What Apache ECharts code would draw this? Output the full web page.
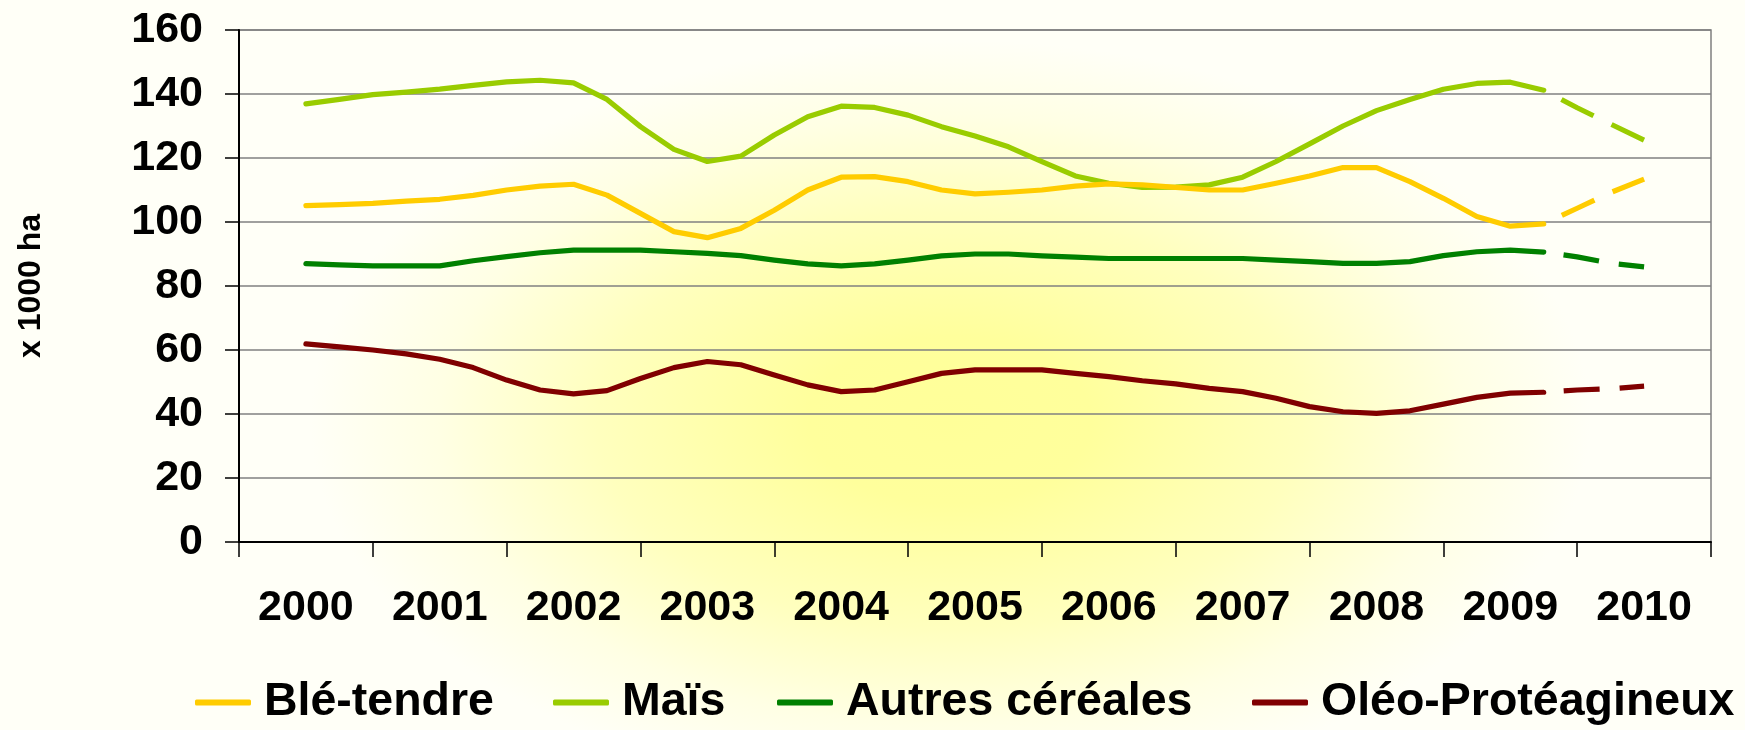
<!DOCTYPE html>
<html>
<head>
<meta charset="utf-8">
<script src="https://cdn.jsdelivr.net/npm/echarts@6/dist/echarts.min.js"></script>
<style>
  html, body { margin: 0; padding: 0; }
  #chart {
    width: 1745px; height: 730px;
    background: radial-gradient(640px 380px at 950px 420px, #ffff99 0%, #ffff9c 22%, #ffffbe 55%, #ffffe4 80%, #fffff7 100%);
  }
</style>
</head>
<body>
<div id="chart"></div>
<script>
// ---- Data (quarterly readings, 2000 → 2010) ----
const years = ['2000','2001','2002','2003','2004','2005','2006','2007','2008','2009','2010'];
const yTicks = [0, 20, 40, 60, 80, 100, 120, 140, 160];
const seriesNames = ['Blé-tendre', 'Maïs', 'Autres céréales', 'Oléo-Protéagineux'];
const firstYear = 2000;
const pointsPerYear = 4;
const forecastStart = 37; // index where the dashed (forecast) part begins

const bleTendre = [105.1,105.4,105.8,106.5,107.1,108.3,110.0,111.2,111.8,108.4,
                   102.7,97.0,95.1,98.0,103.7,110.0,114.0,114.2,112.6,110.0,
                   108.8,109.3,110.0,111.2,111.9,111.6,110.8,110.0,110.0,112.1,
                   114.4,117.0,117.0,112.6,107.4,101.7,98.7,99.4,104.3,109.2,113.4];
const mais      = [136.9,138.3,139.8,140.6,141.5,142.7,143.8,144.3,143.5,138.3,
                   129.8,122.7,118.9,120.6,127.2,132.9,136.2,135.8,133.4,129.8,
                   126.9,123.5,118.9,114.4,112.1,110.8,110.9,111.6,114.0,118.9,
                   124.4,130.0,134.8,138.3,141.5,143.3,143.7,141.2,135.7,130.6,125.6];
const autresCereales = [87.0,86.6,86.3,86.3,86.3,87.9,89.2,90.4,91.2,91.2,
                   91.2,90.7,90.2,89.5,88.1,86.9,86.3,86.9,88.1,89.4,
                   90.0,90.0,89.4,89.0,88.6,88.6,88.6,88.6,88.6,88.1,
                   87.6,87.1,87.1,87.6,89.5,90.7,91.2,90.6,89.1,87.1,86.0];
const oleoProteagineux = [61.9,61.0,60.0,58.8,57.1,54.5,50.6,47.5,46.3,47.3,
                   51.1,54.5,56.4,55.4,52.2,49.1,47.0,47.5,50.1,52.7,
                   53.8,53.8,53.8,52.7,51.7,50.4,49.4,48.0,47.0,44.9,
                   42.3,40.7,40.2,41.0,43.1,45.2,46.5,46.8,47.5,47.9,48.7];
const colors = ['#FFCC00', '#99CC00', '#008000', '#800000'];

// ---- Build ----
const allValues = [bleTendre, mais, autresCereales, oleoProteagineux];
function toPairs(arr, from, to) {
  const out = [];
  for (let i = from; i <= to; i++) out.push([firstYear + i / pointsPerYear, arr[i]]);
  return out;
}
const font = '"Liberation Sans", Arial, sans-serif';
const series = [];
allValues.forEach((vals, s) => {
  series.push({
    name: seriesNames[s], type: 'line', xAxisIndex: 1, yAxisIndex: 0,
    data: toPairs(vals, 0, forecastStart),
    showSymbol: false, symbol: 'none', smooth: false, z: 10 - s,
    lineStyle: { color: colors[s], width: 5.2, cap: 'round', join: 'round' },
    itemStyle: { color: colors[s] },
    silent: true, animation: false
  });
  series.push({
    name: seriesNames[s] + ' (prévision)', type: 'line', xAxisIndex: 1, yAxisIndex: 0,
    data: toPairs(vals, forecastStart, vals.length - 1),
    showSymbol: false, symbol: 'none', smooth: false, z: 10 - s,
    lineStyle: { color: colors[s], width: 5.2, type: [36, 20], dashOffset: 36, cap: 'butt' },
    itemStyle: { color: colors[s] },
    silent: true, animation: false
  });
});

const legendLefts = [195, 553, 777, 1252];
const legends = seriesNames.map((n, i) => ({
  data: [{ name: n, itemStyle: { color: colors[i] } }],
  left: legendLefts[i], top: 679, itemWidth: 56, itemHeight: 6,
  icon: 'roundRect', padding: 0,
  textStyle: { fontFamily: font, fontWeight: 'bold', fontSize: 46.5, color: '#000', padding: [0, 0, 0, 8] },
  selectedMode: false
}));

const chart = echarts.init(document.getElementById('chart'), null, { renderer: 'canvas' });
chart.setOption({
  backgroundColor: 'transparent',
  animation: false,
  grid: { left: 239, right: 34, top: 30, bottom: 188, show: true, borderColor: '#808080', borderWidth: 1.5, backgroundColor: 'transparent' },
  legend: legends,
  xAxis: [
    {
      type: 'category', data: years, boundaryGap: true, position: 'bottom',
      axisLine: { show: true, lineStyle: { color: '#000', width: 2 } },
      axisTick: { show: true, length: 15, lineStyle: { color: '#000', width: 1.5 } },
      axisLabel: { fontFamily: font, fontWeight: 'bold', fontSize: 43, color: '#000', margin: 45, interval: 0 },
      splitLine: { show: false }
    },
    { type: 'value', min: 1999.5, max: 2010.5, show: false }
  ],
  yAxis: [{
    type: 'value', min: yTicks[0], max: yTicks[yTicks.length - 1], interval: 20,
    name: 'x 1000 ha', nameLocation: 'middle', nameGap: 192, nameRotate: 90,
    nameTextStyle: { fontFamily: font, fontWeight: 'bold', fontSize: 32, color: '#000' },
    axisLine: { show: true, lineStyle: { color: '#000', width: 2 } },
    axisTick: { show: true, length: 14, lineStyle: { color: '#000', width: 1.5 } },
    axisLabel: { fontFamily: font, fontWeight: 'bold', fontSize: 43, color: '#000', margin: 36 },
    splitLine: { show: true, lineStyle: { color: '#808080', width: 1.5 } }
  }],
  series: series
});
</script>
</body>
</html>
